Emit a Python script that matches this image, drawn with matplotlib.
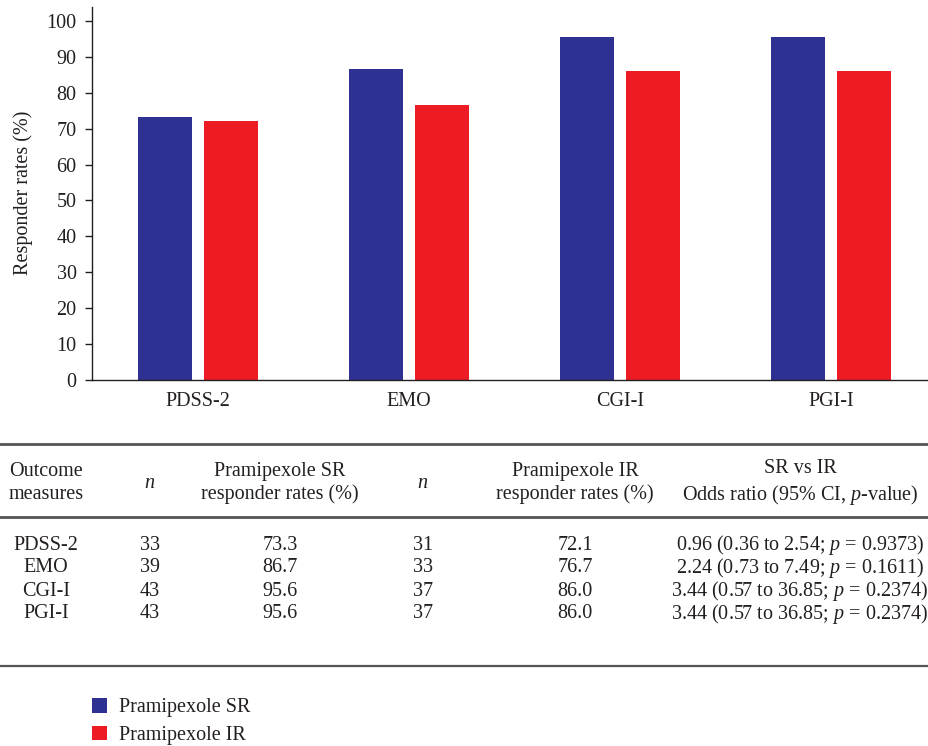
import matplotlib
matplotlib.use("Agg")
import matplotlib.pyplot as plt
import numpy as np

plt.rcParams["font.family"] = ["Liberation Serif", "DejaVu Serif"]
plt.rcParams["mathtext.fontset"] = "custom"
plt.rcParams["mathtext.rm"] = "Liberation Serif"
plt.rcParams["mathtext.it"] = "Liberation Serif:italic"

TXT = "#231f20"
BLUE = "#2e3192"
RED = "#ed1c24"
FS = 14.5

measures = ["PDSS-2", "EMO", "CGI-I", "PGI-I"]
sr_rates = [73.3, 86.7, 95.6, 95.6]
ir_rates = [72.1, 76.7, 86.0, 86.0]
sr_n = [33, 39, 43, 43]
ir_n = [31, 33, 37, 37]
odds = [
    "0.96 (0.36 to 2.54; $p$ = 0.9373)",
    "2.24 (0.73 to 7.49; $p$ = 0.1611)",
    "3.44 (0.57 to 36.85; $p$ = 0.2374)",
    "3.44 (0.57 to 36.85; $p$ = 0.2374)",
]

W, H = 929, 746
fig = plt.figure(figsize=(W / 100, H / 100), dpi=100)


def fx(px):
    return px / W


def fy(py):
    return 1 - py / H


# bar chart, axes extends slightly past the right edge like the cropped original
ax = fig.add_axes([fx(92), fy(380), 845 / W, (380 - 6.6) / H])
x = np.arange(len(measures))
bw = 0.256
b1 = ax.bar(x - 0.156, sr_rates, bw, color=BLUE, label="Pramipexole SR")
b2 = ax.bar(x + 0.156, ir_rates, bw, color=RED, label="Pramipexole IR")
ax.set_xlim(-0.5, 3.5)
ax.set_ylim(0, 104)
ax.set_yticks(np.arange(0, 101, 10))
ax.set_xticks(x)
ax.set_xticklabels(measures)
ax.spines["top"].set_visible(False)
ax.spines["right"].set_visible(False)
for s in ("left", "bottom"):
    ax.spines[s].set_color(TXT)
    ax.spines[s].set_linewidth(1.0)
ax.tick_params(axis="y", length=5, width=1.0, color=TXT, labelsize=FS,
               labelcolor=TXT, pad=6)
ax.tick_params(axis="x", length=0, labelsize=FS, labelcolor=TXT, pad=9)
ax.set_ylabel("Responder rates (%)", fontsize=FS, color=TXT, labelpad=10)

# table
rule_c = "#555555"
for yy, lw in [(444, 2.0), (517, 2.0), (666, 1.6)]:
    fig.add_artist(plt.Line2D([0, 1], [fy(yy), fy(yy)], color=rule_c, lw=lw))

col_x = [46, 150, 280, 423, 575, 800]
headers = [
    "Outcome\nmeasures",
    "$n$",
    "Pramipexole SR\nresponder rates (%)",
    "$n$",
    "Pramipexole IR\nresponder rates (%)",
    "SR vs IR\nOdds ratio (95% CI, $p$-value)",
]
for cx, h in zip(col_x, headers):
    fig.text(fx(cx), fy(483), h, ha="center", va="center", fontsize=FS,
             color=TXT, linespacing=1.25)

row_y = [545, 568, 591, 614]
for i, ry in enumerate(row_y):
    cells = [measures[i], str(sr_n[i]), f"{sr_rates[i]:.1f}",
             str(ir_n[i]), f"{ir_rates[i]:.1f}", odds[i]]
    for cx, c in zip(col_x, cells):
        fig.text(fx(cx), fy(ry), c, ha="center", va="center", fontsize=FS,
                 color=TXT)

# legend
fig.legend(handles=[b1, b2], loc="upper left",
           bbox_to_anchor=(fx(78), fy(684)), frameon=False, fontsize=FS,
           handlelength=0.75, handleheight=0.75, handletextpad=0.6,
           labelspacing=0.4, labelcolor=TXT, borderaxespad=0.3)

fig.savefig("out.png", dpi=100)
